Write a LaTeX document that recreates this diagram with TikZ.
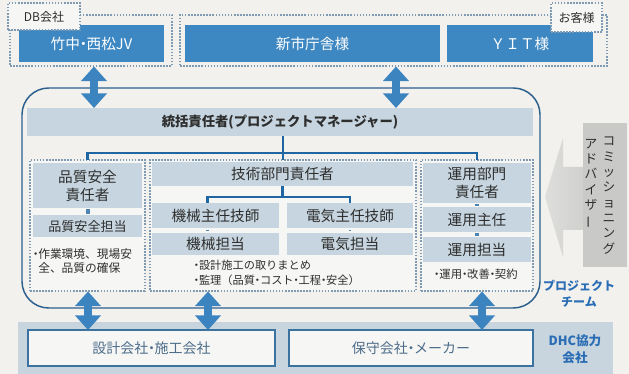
\documentclass[tikz,border=0pt]{standalone}
\usepackage{fontspec}
\setmainfont{Noto Sans CJK JP}
\usepackage{graphicx}
\usetikzlibrary{arrows.meta}
\newcommand\ndot{\makebox[0.45em]{・}}
\definecolor{bgc}{HTML}{F2F1ED}
\definecolor{inbg}{HTML}{F6F6F4}
\definecolor{topb}{HTML}{3D87C2}
\definecolor{arrc}{HTML}{3B84C0}
\definecolor{greyf}{HTML}{C6D5DF}
\definecolor{dotc}{HTML}{7F9AB3}
\definecolor{teamc}{HTML}{2B5F8E}
\definecolor{treec}{HTML}{1F66A3}
\definecolor{txt}{HTML}{2E2E2E}
\definecolor{btxt}{HTML}{4D6D8A}
\definecolor{labc}{HTML}{2A6DB5}
\definecolor{bandc}{HTML}{C8D5DE}
\definecolor{wboxc}{HTML}{3A72A0}
\definecolor{cagrey}{HTML}{C9C9C7}
\definecolor{argl}{HTML}{DEDEDC}
\definecolor{argr}{HTML}{CFCFCD}
\begin{document}
\begin{tikzpicture}[x=0.75pt,y=-0.75pt,
  wh/.style 2 args={minimum width={#1*0.75pt},minimum height={#2*0.75pt}},
  every node/.style={inner sep=0pt,outer sep=0pt,text=txt},
  dotbox/.style={draw=dotc,line width=1.2pt,dash pattern=on 1.2pt off 1.1pt},
  labbox/.style={dotbox,fill=inbg,font=\fontsize{9}{11}\selectfont},
  topbox/.style={fill=topb,text=white,font=\fontsize{11}{13}\selectfont},
  team/.style={draw=teamc,line width=1.1pt,rounded corners=20pt},
  bar/.style={fill=greyf,font=\fontsize{10}{12}\selectfont\bfseries},
  dotin/.style={dotbox,fill=inbg},
  grey/.style={fill=greyf,font=\fontsize{11}{13.5}\selectfont,align=center},
  greys/.style={fill=greyf,font=\fontsize{9.8}{12}\selectfont},
  small/.style={font=\fontsize{8.8}{10.5}\selectfont,align=left},
  tree/.style={draw=treec,line width=2.2pt},
  mini/.style={draw=treec!80!white,line width=3pt,shorten <=1pt,shorten >=1pt},
  minid/.style={draw=treec!80!white,line width=2.2pt,shorten <=1.2pt,shorten >=1.2pt},
  dbl/.style={draw=arrc,line width=6pt,{Triangle[length=11pt,width=19pt]}-{Triangle[length=11pt,width=19pt]}},
  band/.style={fill=bandc},
  wbox/.style={fill=inbg,draw=wboxc,line width=1.1pt,text=btxt,font=\fontsize{10.5}{13}\selectfont},
  bluelab/.style={text=labc,font=\fontsize{9}{12}\selectfont\bfseries,align=center},
  vtext/.style={font=\fontsize{9.5}{11.5}\selectfont,align=center,text=txt}
]
\useasboundingbox (0,0) rectangle (629,374);
\fill[bgc] (0,0) rectangle (629,374);

% ---- top groups
\node[dotbox,wh={162}{51}] (grp1) at (91,40.5) {};
\node[dotbox,wh={427}{51}] (grp2) at (393.5,40.5) {};
\node[topbox,wh={145}{37}] (jv) at (91.5,43.5) {竹中\ndot 西松JV};
\node[topbox,wh={255}{37}] (city) at (312.5,43.5) {新市庁舎様};
\node[topbox,wh={146}{37}] (yit) at (520,43.5) {ＹＩＴ様};
\node[labbox,wh={72}{27}] (dblab) at (44,16.5) {DB会社};
\node[labbox,wh={51}{29}] (custlab) at (576.5,17.5) {お客様};

% ---- project team
\node[team,wh={518}{220}] (team) at (281,198) {};
\node[bar,wh={506}{28}] (pm) at (280,122) {統括責任者(プロジェクトマネージャー)};

\node[dotin,wh={115}{131}] (qbox) at (87.5,225.5) {};
\node[dotin,wh={266}{131}] (mid) at (283,225.5) {};
\node[dotin,wh={112}{131}] (ubox) at (477,225.5) {};

% left column
\node[grey,wh={109}{45}] (q1) at (87.5,185.5) {品質安全\\責任者};
\node[greys,wh={109}{22}] (q2) at (87.5,226.5) {品質安全担当};
\node[small,anchor=north west] (q3) at (33,249) {\ndot 作業環境、現場安\\\hspace*{0.45em}全、品質の確保};

% middle column
\node[grey,wh={261}{24}] (th) at (282.5,174) {技術部門責任者};
\node[grey,wh={127}{25}] (k1) at (215.5,215.5) {機械主任技師};
\node[grey,wh={126}{25}] (e1) at (350,215.5) {電気主任技師};
\node[grey,wh={127}{22}] (k2) at (215.5,244) {機械担当};
\node[grey,wh={126}{22}] (e2) at (350,244) {電気担当};
\node[small,anchor=north west,font=\fontsize{8.4}{11}\selectfont] (m3) at (194,260) {\ndot 設計施工の取りまとめ\\\ndot 監理（品質\ndot コスト\ndot 工程\ndot 安全）};

% right column
\node[grey,wh={108}{40}] (u1) at (477,183) {運用部門\\責任者};
\node[grey,wh={108}{25}] (u2) at (477,219.5) {運用主任};
\node[grey,wh={108}{25}] (u3) at (477,249.5) {運用担当};
\node[font=\fontsize{8.5}{10}\selectfont] (u4) at (476,274) {\ndot 運用\ndot 改善\ndot 契約};

% tree connectors
\coordinate (hb) at (283,153);
\draw[tree] (pm.south -| hb) -- (mid.north -| hb);
\draw[tree] (qbox.north) |- (hb) -| (ubox.north);
\coordinate (hb2) at (282.5,197);
\draw[tree] (th.south) -- (hb2);
\draw[tree] ([xshift=-6pt]k1.north) |- (hb2) -| (e1.north);
\draw[mini] (q1.south) -- (q2.north);
\draw[mini] (u1.south) -- (u2.north);
\draw[mini] (u2.south) -- (u3.north);
\draw[minid] ([xshift=-6pt]k1.south) -- ([xshift=-6pt]k2.north);
\draw[minid] (e1.south) -- (e2.north);

% commissioning adviser
\shade[left color=argl,right color=argr] (585,167) -- (563,167) -- (563,138) -- (545,197) -- (563,257) -- (563,230) -- (585,230) -- cycle;
\node[fill=cagrey,wh={44}{144}] (ca) at (605,195) {};
\node[vtext,anchor=north] (cm1) at (609,137) {コ\\ミ\\ッ\\シ\\ョ\\ニ\\ン\\グ};
\node[vtext,anchor=north] (cm2) at (591,139) {ア\\ド\\バ\\イ\\ザ\\\rotatebox[origin=c]{90}{ー}};
\node[bluelab] (ptlab) at (579,294) {プロジェクト\\チーム};

% bottom band
\node[band,wh={595}{52}] (band) at (315.5,348) {};
\node[wbox,wh={247}{36}] (b1) at (151.5,348) {設計会社\ndot 施工会社};
\node[wbox,wh={244}{36}] (b2) at (411,348) {保守会社\ndot メーカー};
\node[bluelab,font=\fontsize{9.5}{12.5}\selectfont\bfseries] (dhc) at (575,349) {DHC協力\\会社};

% double arrows
\coordinate (ta1) at (94,66.5);
\coordinate (ta2) at (396,66.5);
\draw[dbl] (ta1) -- (ta1 |- pm.north);
\draw[dbl] (ta2) -- (ta2 |- pm.north);
\coordinate (ba1) at (88,291.5);
\coordinate (ba2) at (208,291.5);
\coordinate (ba3) at (482,291.5);
\draw[dbl] (ba1) -- (ba1 |- b1.north);
\draw[dbl] (ba2) -- (ba2 |- b1.north);
\draw[dbl] (ba3) -- (ba3 |- b2.north);
\end{tikzpicture}
\end{document}
